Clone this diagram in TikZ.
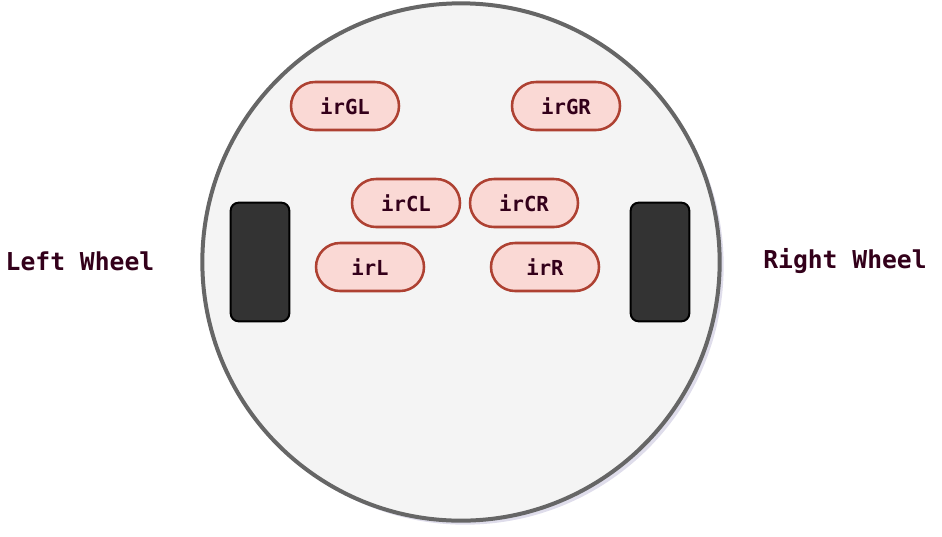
\documentclass[tikz,border=0pt]{standalone}
\usepackage{fontspec}
\setmonofont{DejaVu Sans Mono}
\usetikzlibrary{shapes}

\definecolor{bodyfill}{HTML}{F4F4F4}
\definecolor{bodyline}{HTML}{666666}
\definecolor{shadowc}{HTML}{C9C6DE}
\definecolor{irfill}{HTML}{FAD9D5}
\definecolor{irline}{HTML}{AE4132}
\definecolor{wheelfill}{HTML}{333333}
\definecolor{txt}{HTML}{33001A}

\tikzset{
  sensor/.style={draw=irline, fill=irfill, line width=1.9pt, rounded corners=18pt,
    minimum width=81pt, minimum height=36pt, font=\ttfamily\bfseries\fontsize{15.5}{16}\selectfont, text=txt},
  wheel/.style={draw=black, fill=wheelfill, line width=1.5pt, rounded corners=6pt,
    minimum width=44pt, minimum height=89pt},
  wlabel/.style={font=\ttfamily\bfseries\fontsize{18.5}{19}\selectfont, text=txt}
}

\begin{document}
\begin{tikzpicture}[x=0.75pt, y=-0.75pt]
\useasboundingbox (0,0) rectangle (942,536);

% robot body
\node[circle, fill=shadowc, opacity=0.6, minimum size=388pt] (bodyshadow) at (465,266) {};
\node[circle, draw=bodyline, fill=bodyfill, line width=3pt, minimum size=388pt] (body) at (461,262) {};

% wheels
\node[wheel] (lwheel) at (260,262) {};
\node[wheel] (rwheel) at (660,262) {};

% ir sensors
\node[sensor] (irGL) at (345,106) {irGL};
\node[sensor] (irGR) at (566,106) {irGR};
\node[sensor] (irCL) at (406,203) {irCL};
\node[sensor] (irCR) at (524,203) {irCR};
\node[sensor] (irL) at (370,267) {irL};
\node[sensor] (irR) at (545,267) {irR};

% labels
\node[wlabel] (llabel) at (80,261) {Left Wheel}; %label
\node[wlabel] (rlabel) at (845,261) {Right Wheel}; %label

\end{tikzpicture}
\end{document}
